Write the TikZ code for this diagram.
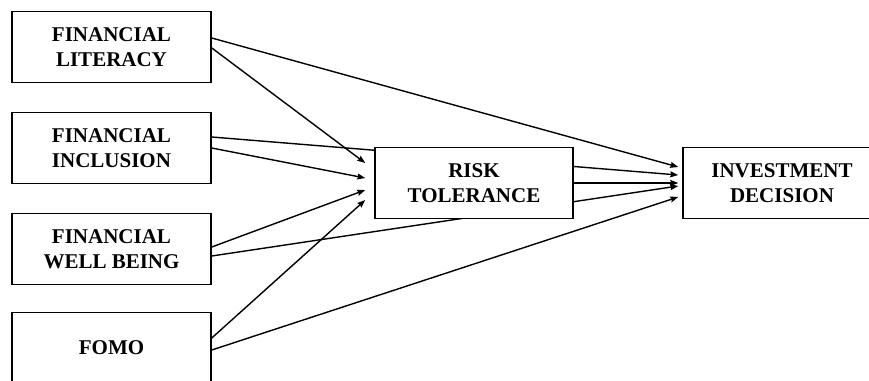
\documentclass[tikz,border=0pt]{standalone}
\usepackage{fontspec}
\setmainfont{Liberation Serif}
\usetikzlibrary{arrows.meta,calc}
\pgfdeclarelayer{background}
\pgfsetlayers{background,main}
\begin{document}
\begin{tikzpicture}[x=1pt,y=1pt,
  box/.style={draw=black,line width=1.5pt,fill=white,minimum width=199pt,minimum height=71pt,
    align=center,inner sep=0pt,font=\fontsize{21}{25}\selectfont\bfseries},
  conn/.style={line width=1.4pt,-{Stealth[length=8pt,width=6pt,inset=1pt]}}]
\useasboundingbox (0,0) rectangle (869,-380);
\clip (0,0) rectangle (869,-380);
\node[box] (fl) at (111.5,-47) {FINANCIAL\\LITERACY};
\node[box] (fi) at (111.5,-148) {FINANCIAL\\INCLUSION};
\node[box] (fw) at (111.5,-249) {FINANCIAL\\WELL BEING};
\node[box] (fo) at (111.5,-348) {FOMO};
\node[box,minimum width=198pt] (rt) at (474,-183) {RISK\\TOLERANCE};
\node[box,minimum width=198pt] (id) at (782,-183) {INVESTMENT\\DECISION};
\begin{pgfonlayer}{background}
\fill[white] (0,0) rectangle (869,-380);
\draw[conn] ($(fl.east)+(0,9)$) -- ($(id.west)+(-4,16)$);
\draw[conn] ($(fl.east)+(0,-1)$) -- ($(rt.west)+(-9,20)$);
\draw[conn] ($(fi.east)+(0,11)$) -- ($(id.west)+(-4,8)$);
\draw[conn] ($(fi.east)+(0,0)$) -- ($(rt.west)+(-9,5)$);
\draw[conn] ($(fw.east)+(0,2)$) -- ($(rt.west)+(-9,-7)$);
\draw[conn] ($(fw.east)+(0,-7)$) -- ($(id.west)+(-4,-3)$);
\draw[conn] ($(fo.east)+(0,10)$) -- ($(rt.west)+(-9,-17)$);
\draw[conn] ($(fo.east)+(0,-2)$) -- ($(id.west)+(-4,-14)$);
\draw[conn] ($(rt.east)+(0,0)$) -- ($(id.west)+(-4,0)$);
\end{pgfonlayer}
\end{tikzpicture}
\end{document}
